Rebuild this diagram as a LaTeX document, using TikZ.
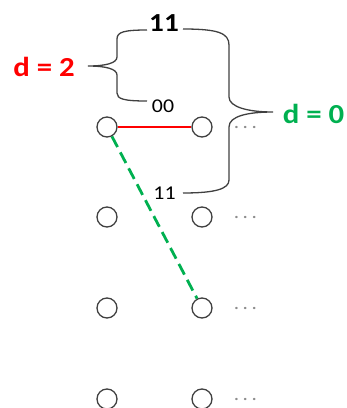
\documentclass[tikz,border=0pt]{standalone}
\usepackage{fontspec}
\setmainfont{Carlito}[FakeStretch=1.12]
\usetikzlibrary{positioning}
\definecolor{dgreen}{RGB}{0,176,80}
\definecolor{bred}{RGB}{255,0,0}

\begin{document}
\begin{tikzpicture}[
  x=1pt, y=-1pt,
  state/.style={draw=black!75, circle, minimum size=20pt, inner sep=0pt, line width=1.3pt},
  more/.style={text=black!45, inner sep=0pt, font=\fontsize{19}{19}\selectfont},
  bits/.style={inner sep=0pt, font=\fontsize{19.5}{20}\selectfont},
  head/.style={inner sep=0pt, font=\fontsize{26}{26}\selectfont\bfseries},
  dist/.style={inner sep=0pt, font=\fontsize{27.5}{27.5}\selectfont\bfseries},
  brace/.style={draw=black!75, line width=1.3pt},
  redpath/.style={draw=bred, line width=1.5pt},
  survivor/.style={draw=dgreen, line width=2.8pt, dash pattern=on 12pt off 6pt}
]
\useasboundingbox (0,0) rectangle (347,408);
% trellis states
\node[state] (a1) at (107,127) {};
\node[state] (a2) at (202,127) {};
\node[state] (b1) at (107,217) {};
\node[state] (b2) at (202,217) {};
\node[state] (c1) at (107,308) {};
\node[state] (c2) at (202,308) {};
\node[state] (e1) at (107,399) {};
\node[state] (e2) at (202,399) {};
\node[more, right=21pt of a2] (adots) {.\kern3.5pt.\kern3.5pt.};
\node[more, right=21pt of b2] (bdots) {.\kern3.5pt.\kern3.5pt.};
\node[more, right=21pt of c2] (cdots) {.\kern3.5pt.\kern3.5pt.};
\node[more, right=21pt of e2] (edots) {.\kern3.5pt.\kern3.5pt.};
% codewords and distances
\node[head] (recv) at (164,23.5) {11};
\node[bits] (upper) at (163,106) {00};
\node[bits] (lower) at (164.5,193.5) {11};
\node[dist, text=bred] (dtwo) at (44,67) {d = 2};
\node[dist, text=dgreen] (dzero) at (313.5,114) {d = 0};
% braces
\draw[brace] (147,30) .. controls (124,30) and (117,32) .. (117,39) -- (117,57)
  .. controls (117,63) and (106,66) .. (88,66)
  .. controls (106,66) and (117,69) .. (117,75) -- (117,93)
  .. controls (117,99) and (124,101) .. (147,101);
\draw[brace] (183,29) .. controls (218,29) and (229,33) .. (229,45) -- (229,97)
  .. controls (229,107) and (248,112) .. (273,112)
  .. controls (248,112) and (229,116) .. (229,127) -- (229,180)
  .. controls (229,189) and (215,193) .. (183,193);
% branches
\draw[redpath] (a1) -- (a2);
\draw[survivor] (a1) -- (c2);
\end{tikzpicture}
\end{document}
